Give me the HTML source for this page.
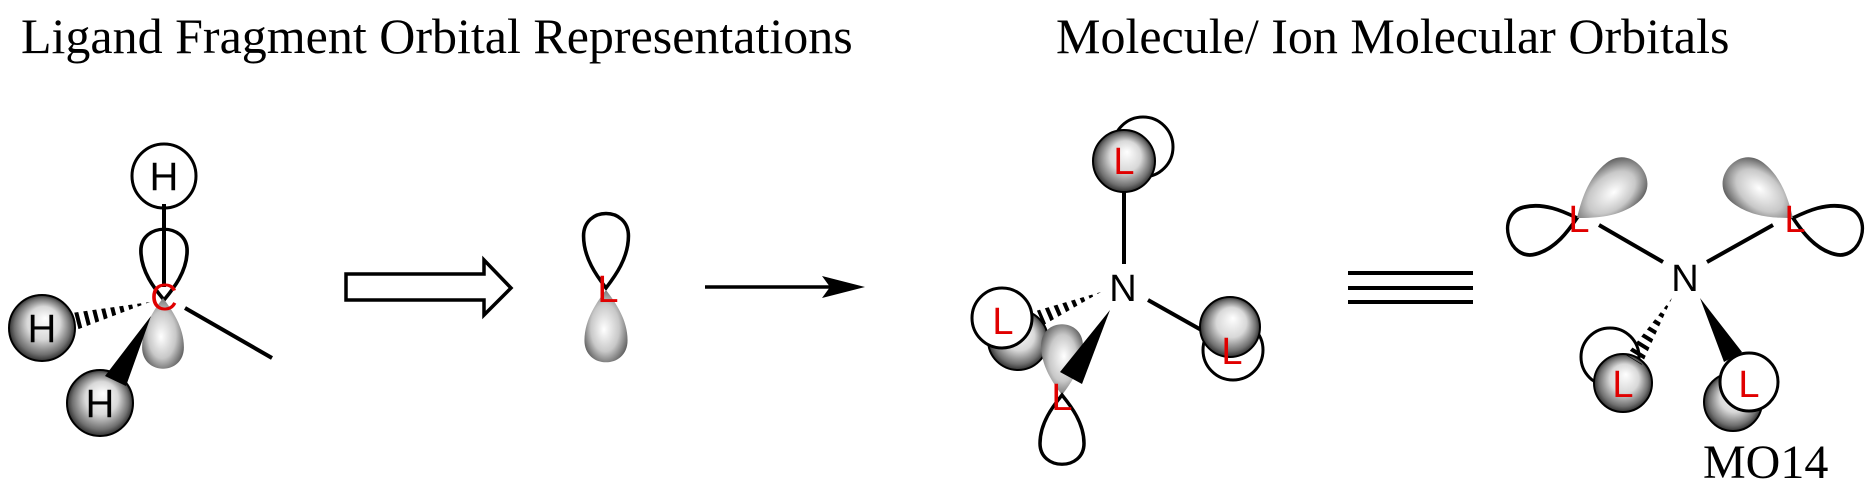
<!DOCTYPE html>
<html><head><meta charset="utf-8"><style>
html,body{margin:0;padding:0;background:#fff;}
svg{display:block;}
</style></head><body>
<svg width="1872" height="501" viewBox="0 0 1872 501" xmlns="http://www.w3.org/2000/svg">
<defs>
<radialGradient id="sph" cx="0.5" cy="0.5" r="0.5" fx="0.55" fy="0.35">
<stop offset="0" stop-color="#ffffff"/><stop offset="0.5" stop-color="#d8d8d8"/><stop offset="0.85" stop-color="#707070"/><stop offset="1" stop-color="#303030"/>
</radialGradient>
<radialGradient id="lob" cx="0.5" cy="0.5" r="0.6" fx="0.55" fy="0.45">
<stop offset="0" stop-color="#ffffff"/><stop offset="0.55" stop-color="#c8c8c8"/><stop offset="1" stop-color="#505050"/>
</radialGradient>
<path id="lobe" d="M0,0 C-9,-12 -22,-30 -22,-52 C-22,-82 22,-82 22,-52 C22,-30 9,-12 0,0 Z"/>
<clipPath id="h1"><polygon points="150,302 69.8,313.3 74.2,330.7"/></clipPath>
<clipPath id="h2"><polygon points="1101,292 1036.9,310.6 1043.1,325.4"/></clipPath>
<clipPath id="h3"><polygon points="1672,298 1626.3,355.3 1641.7,364.7"/></clipPath>
</defs>
<g font-family="Liberation Serif, serif" font-size="50" fill="#000">
<text x="21" y="53">Ligand Fragment Orbital Representations</text>
<text x="1056" y="53">Molecule/ Ion Molecular Orbitals</text>
<text x="1703" y="478" font-size="48">MO14</text>
</g>
<g stroke="#000" stroke-width="4" fill="none" stroke-linecap="butt">
<circle cx="164" cy="176" r="32" fill="#fff" stroke-width="3"/>
<line x1="164" y1="204" x2="164" y2="287"/>
<use href="#lobe" transform="translate(164,300) scale(1.05,0.95)" stroke-width="3.5"/>
<use href="#lobe" transform="translate(163,298) rotate(180) scale(0.95,0.95)" fill="url(#lob)" stroke="none"/>
<line x1="185" y1="308" x2="272" y2="358"/>
<circle cx="42" cy="328" r="33" fill="url(#sph)" stroke-width="2"/>
<line x1="150" y1="302" x2="68" y2="323" stroke-width="24" stroke-dasharray="4 5" clip-path="url(#h1)"/>
<circle cx="100" cy="403" r="33" fill="url(#sph)" stroke-width="2"/>
<polygon points="151,316 105,376 126,386" fill="#000" stroke="none"/>
<path d="M346,274 H484 V260 L511,288 L484,315 V300 H346 Z" stroke-width="3.5" fill="#fff"/>
<use href="#lobe" transform="translate(606,288) scale(1.02,1.0)" stroke-width="3.5"/>
<use href="#lobe" transform="translate(606,290) rotate(180) scale(0.98,0.97)" fill="url(#lob)" stroke="none"/>
<line x1="705" y1="287" x2="840" y2="287" stroke-width="3.5"/>
<polygon points="865,287 822,276 830,287 822,298" fill="#000" stroke="none"/>
<circle cx="1143" cy="147" r="30" fill="#fff" stroke-width="3"/>
<circle cx="1124" cy="161" r="31" fill="url(#sph)" stroke-width="2"/>
<line x1="1124" y1="192" x2="1124" y2="264"/>
<line x1="1148" y1="300" x2="1212" y2="336"/>
<circle cx="1233" cy="350" r="30" fill="#fff" stroke-width="3"/>
<circle cx="1230" cy="327" r="30" fill="url(#sph)" stroke-width="2"/>
<circle cx="1018" cy="340" r="30" fill="url(#sph)" stroke-width="2"/>
<circle cx="1002" cy="318" r="30" fill="#fff" stroke-width="3"/>
<line x1="1101" y1="292" x2="1036" y2="320" stroke-width="24" stroke-dasharray="4 5" clip-path="url(#h2)"/>
<use href="#lobe" transform="translate(1062,395) scale(0.95,0.95)" fill="url(#lob)" stroke="none"/>
<polygon points="1110,310 1060,372 1082,384" fill="#000" stroke="none"/>
<use href="#lobe" transform="translate(1062,395) rotate(180) scale(1,0.93)" stroke-width="3.5"/>
<line x1="1348" y1="273" x2="1473" y2="273"/>
<line x1="1348" y1="288" x2="1473" y2="288"/>
<line x1="1348" y1="302" x2="1473" y2="302"/>
<use href="#lobe" transform="translate(1577,218) rotate(-105) scale(1.1,0.95)" stroke-width="3.5"/>
<use href="#lobe" transform="translate(1577,218) rotate(52) scale(1.15,1.1)" fill="url(#lob)" stroke="none"/>
<use href="#lobe" transform="translate(1793,218) rotate(105) scale(1.1,0.95)" stroke-width="3.5"/>
<use href="#lobe" transform="translate(1793,218) rotate(-52) scale(1.15,1.1)" fill="url(#lob)" stroke="none"/>
<line x1="1599" y1="225" x2="1663" y2="262"/>
<line x1="1707" y1="262" x2="1773" y2="225"/>
<circle cx="1610" cy="357" r="29" fill="#fff" stroke-width="3"/>
<circle cx="1623" cy="383" r="29" fill="url(#sph)" stroke-width="2"/>
<line x1="1672" y1="298" x2="1630" y2="366" stroke-width="24" stroke-dasharray="4 5" clip-path="url(#h3)"/>
<circle cx="1733" cy="402" r="29" fill="url(#sph)" stroke-width="2"/>
<polygon points="1700,298 1724,362 1742,352" fill="#000" stroke="none"/>
<circle cx="1749" cy="382" r="29" fill="#fff" stroke-width="3"/>
</g>
<g font-family="Liberation Sans, sans-serif" font-size="40" text-anchor="middle">
<text x="164" y="190">H</text>
<text x="42" y="342">H</text>
<text x="100" y="417">H</text>
<text x="1123" y="301" font-size="38">N</text>
<text x="1685" y="291" font-size="38">N</text>
<g fill="#e00000" font-size="38">
<text x="164" y="310">C</text>
<text x="608" y="302">L</text>
<text x="1124" y="174">L</text>
<text x="1232" y="364">L</text>
<text x="1003" y="334">L</text>
<text x="1062" y="410">L</text>
<text x="1579" y="232">L</text>
<text x="1795" y="232">L</text>
<text x="1623" y="397">L</text>
<text x="1749" y="397">L</text>
</g>
</g>
</svg>
</body></html>
